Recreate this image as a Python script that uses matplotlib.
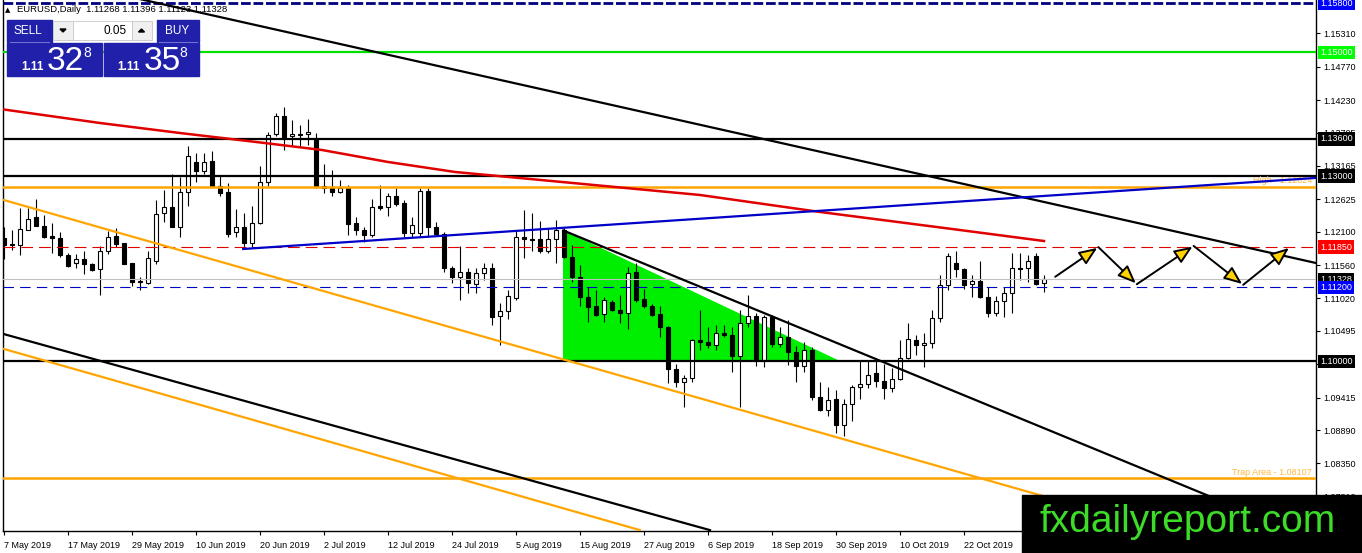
import numpy as np
import matplotlib
matplotlib.use('Agg')
import matplotlib.pyplot as plt
from matplotlib.patches import Rectangle, Polygon

plt.rcParams['font.family'] = ['Liberation Sans', 'DejaVu Sans']
plt.rcParams['lines.scale_dashes'] = False

# EURUSD daily candles (bar 0 = 7 May 2019)
opens = [1.1199, 1.1190, 1.1189, 1.1212, 1.1233, 1.1220, 1.1203, 1.1200, 1.1173, 1.1159,
         1.1165, 1.1158, 1.1149, 1.1179, 1.1203, 1.1191, 1.1159, 1.1130, 1.1127, 1.1163,
         1.1240, 1.1250, 1.1218, 1.1274, 1.1322, 1.1309, 1.1324, 1.1284, 1.1274, 1.1209,
         1.1218, 1.1191, 1.1224, 1.1291, 1.1368, 1.1397, 1.1365, 1.1367, 1.1368, 1.1359,
         1.1284, 1.1281, 1.1275, 1.1282, 1.1224, 1.1213, 1.1205, 1.1252, 1.1250, 1.1268,
         1.1256, 1.1208, 1.1208, 1.1276, 1.1217, 1.1207, 1.1151, 1.1137, 1.1144, 1.1125,
         1.1143, 1.1152, 1.1074, 1.1082, 1.1102, 1.1201, 1.1198, 1.1198, 1.1178, 1.1198,
         1.1213, 1.1169, 1.1136, 1.1105, 1.1090, 1.1077, 1.1097, 1.1083, 1.1078, 1.1145,
         1.1101, 1.1089, 1.1076, 1.1055, 1.0987, 1.0967, 1.0973, 1.1035, 1.1032, 1.1027,
         1.1046, 1.1043, 1.1009, 1.1062, 1.1074, 1.1002, 1.1072, 1.1028, 1.1040, 1.1015,
         1.0992, 1.1019, 1.0942, 1.0922, 1.0940, 1.0897, 1.0931, 1.0958, 1.0964, 1.0982,
         1.0969, 1.0957, 1.0971, 1.1005, 1.1035, 1.1027, 1.1030, 1.1070, 1.1124, 1.1159,
         1.1149, 1.1125, 1.1130, 1.1104, 1.1079, 1.1098, 1.1110, 1.1152, 1.1151, 1.1171,
         1.11268]
highs = [1.1218, 1.1213, 1.1249, 1.1248, 1.1263, 1.1237, 1.1224, 1.1210, 1.1175, 1.1174,
         1.1179, 1.1159, 1.1187, 1.1211, 1.1216, 1.1192, 1.1160, 1.1137, 1.1178, 1.1261,
         1.1278, 1.1304, 1.1299, 1.1348, 1.1337, 1.1338, 1.1341, 1.1302, 1.1289, 1.1246,
         1.1241, 1.1252, 1.1316, 1.1372, 1.1402, 1.1412, 1.1390, 1.1383, 1.1392, 1.1369,
         1.1320, 1.1310, 1.1294, 1.1286, 1.1233, 1.1218, 1.1263, 1.1286, 1.1272, 1.1280,
         1.1261, 1.1233, 1.1280, 1.1280, 1.1225, 1.1210, 1.1155, 1.1187, 1.1151, 1.1151,
         1.1160, 1.1160, 1.1094, 1.1116, 1.1213, 1.1245, 1.1241, 1.1228, 1.1216, 1.1229,
         1.1216, 1.1189, 1.1156, 1.1120, 1.1115, 1.1105, 1.1100, 1.1108, 1.1153, 1.1159,
         1.1117, 1.1093, 1.1090, 1.1058, 1.0996, 1.0978, 1.1037, 1.1084, 1.1056, 1.1059,
         1.1059, 1.1055, 1.1084, 1.1108, 1.1078, 1.1075, 1.1075, 1.1056, 1.1067, 1.1025,
         1.1032, 1.1023, 1.0966, 1.0959, 1.0954, 1.0939, 1.0962, 1.1000, 1.1000, 1.1000,
         1.0996, 1.0989, 1.1034, 1.1062, 1.1043, 1.1046, 1.1084, 1.1140, 1.1175, 1.1178,
         1.1151, 1.1140, 1.1162, 1.1120, 1.1106, 1.1120, 1.1175, 1.1175, 1.1172, 1.1175,
         1.11396]
lows = [1.1165, 1.1181, 1.1173, 1.1212, 1.1219, 1.1199, 1.1175, 1.1169, 1.1153, 1.1151,
        1.1141, 1.1147, 1.1107, 1.1174, 1.1186, 1.1157, 1.1122, 1.1116, 1.1126, 1.1158,
        1.1225, 1.1217, 1.1202, 1.1252, 1.1291, 1.1303, 1.1283, 1.1267, 1.1201, 1.1202,
        1.1186, 1.1186, 1.1223, 1.1284, 1.1365, 1.1343, 1.1348, 1.1348, 1.1350, 1.1280,
        1.1273, 1.1267, 1.1272, 1.1205, 1.1205, 1.1194, 1.1201, 1.1245, 1.1235, 1.1252,
        1.1201, 1.1201, 1.1203, 1.1201, 1.1205, 1.1144, 1.1127, 1.1100, 1.1111, 1.1111,
        1.1132, 1.1059, 1.1027, 1.1068, 1.1100, 1.1167, 1.1178, 1.1175, 1.1176, 1.1160,
        1.1167, 1.1129, 1.1090, 1.1064, 1.1074, 1.1064, 1.1081, 1.1063, 1.1052, 1.1097,
        1.1086, 1.1073, 1.1040, 1.0965, 1.0958, 1.0927, 1.0967, 1.1018, 1.1021, 1.1019,
        1.1040, 1.0983, 1.0927, 1.1056, 1.0992, 1.0991, 1.1024, 1.1024, 1.0994, 1.0966,
        1.0983, 1.0938, 1.0919, 1.0911, 1.0884, 1.0879, 1.0903, 1.0940, 1.0957, 1.0959,
        1.0940, 1.0951, 1.0970, 1.1004, 1.1011, 1.0991, 1.1021, 1.1064, 1.1115, 1.1137,
        1.1117, 1.1105, 1.1102, 1.1072, 1.1074, 1.1072, 1.1079, 1.1131, 1.1128, 1.1124,
        1.11123]
closes = [1.1188, 1.1189, 1.1214, 1.1231, 1.1220, 1.1202, 1.1199, 1.1173, 1.1155, 1.1165,
          1.1157, 1.1148, 1.1179, 1.1201, 1.1190, 1.1158, 1.1129, 1.1128, 1.1167, 1.1238,
          1.1250, 1.1218, 1.1274, 1.1332, 1.1309, 1.1323, 1.1284, 1.1273, 1.1207, 1.1217,
          1.1191, 1.1224, 1.1290, 1.1367, 1.1397, 1.1364, 1.1368, 1.1368, 1.1372, 1.1282,
          1.1281, 1.1275, 1.1281, 1.1223, 1.1212, 1.1205, 1.1250, 1.1248, 1.1268, 1.1255,
          1.1208, 1.1221, 1.1276, 1.1218, 1.1206, 1.1151, 1.1137, 1.1144, 1.1127, 1.1143,
          1.1152, 1.1072, 1.1082, 1.1106, 1.1201, 1.1198, 1.1197, 1.1178, 1.1198, 1.1213,
          1.1169, 1.1137, 1.1105, 1.1088, 1.1075, 1.1099, 1.1083, 1.1078, 1.1143, 1.1099,
          1.1089, 1.1075, 1.1055, 1.0987, 1.0967, 1.0973, 1.1034, 1.1032, 1.1027, 1.1046,
          1.1042, 1.1009, 1.1062, 1.1074, 1.1002, 1.1072, 1.1028, 1.1039, 1.1016, 1.0992,
          1.1019, 1.0942, 1.0922, 1.0937, 1.0897, 1.0931, 1.0958, 1.0964, 1.0978, 1.0969,
          1.0957, 1.0971, 1.1005, 1.1036, 1.1027, 1.1030, 1.1070, 1.1124, 1.1171, 1.1149,
          1.1124, 1.1130, 1.1104, 1.1079, 1.1098, 1.1111, 1.1152, 1.1150, 1.1162, 1.1126,
          1.11328]

date_bars = [0, 8, 16, 24, 32, 40, 48, 56, 64, 72, 80, 88, 96, 104, 112, 120]
date_labels = ['7 May 2019', '17 May 2019', '29 May 2019', '10 Jun 2019', '20 Jun 2019',
               '2 Jul 2019', '12 Jul 2019', '24 Jul 2019', '5 Aug 2019', '15 Aug 2019',
               '27 Aug 2019', '6 Sep 2019', '18 Sep 2019', '30 Sep 2019', '10 Oct 2019',
               '22 Oct 2019']
price_ticks = [1.15310, 1.14770, 1.14230, 1.13705, 1.13165, 1.12625, 1.12100, 1.11560,
               1.11020, 1.10495, 1.09955, 1.09415, 1.08890, 1.08350, 1.07810]

# moving average (red)
ma_bars = [-0.5, 12, 22, 32.6, 39.75, 48, 56.4, 65.75, 87, 102, 119.5, 130]
ma_vals = [1.14086, 1.13859, 1.13697, 1.13535, 1.13422, 1.13228, 1.13066, 1.12953,
           1.12694, 1.12419, 1.12127, 1.11949]

# trend lines (bar, price) pairs
top_line = ([0, 164], [1.16358, 1.11593])
wedge_line = ([69.9, 164], [1.1212, 1.0711])
blue_line = ([29.9, 164], [1.1182, 1.1297])
orange_up = ([-0.5, 150], [1.1263, 1.0708])
orange_low = ([-0.5, 79.5], [1.1022, 1.0727])
black_low = ([-0.5, 88.25], [1.1046, 1.0727])
tri_bars = [69.9, 69.9, 104.5]
tri_vals = [1.1212, 1.1000, 1.1000]

# projected zigzag
zig_bars = [131.4, 136.8, 141.6, 148.7, 154.9, 160.75]
zig_vals = [1.1137, 1.1185, 1.1125, 1.1187, 1.1124, 1.1185]

# horizontal levels
hlines = [(1.15800, '#000080', 2.0, (0, (7, 2))),
          (1.15000, '#00e000', 1.6, '-'),
          (1.13600, 'black', 1.6, '-'),
          (1.13000, 'black', 1.6, '-'),
          (1.12824, '#ffa500', 1.8, '-'),
          (1.11850, '#e00000', 0.8, (0, (8.5, 4.3))),
          (1.11328, '#c0c0c0', 0.8, '-'),
          (1.11200, '#0000c0', 0.8, (0, (7.5, 4.5))),
          (1.10000, 'black', 1.6, '-'),
          (1.08107, '#ffa500', 1.8, '-')]
price_tags = [(1.15800, '1.15800', '#0000ff', 'white'),
              (1.15000, '1.15000', '#00ff00', 'white'),
              (1.13600, '1.13600', 'black', 'white'),
              (1.13000, '1.13000', 'black', 'white'),
              (1.11850, '1.11850', '#ff0000', 'white'),
              (1.11328, '1.11328', 'black', 'white'),
              (1.11200, '1.11200', '#0000ff', 'white'),
              (1.10000, '1.10000', 'black', 'white')]

W, H = 1362, 553
fig = plt.figure(figsize=(W / 100, H / 100), dpi=100)
ax = fig.add_axes([3 / W, (H - 531) / H, (1316 - 3) / W, 531 / H])
ax.set_xlim(-0.125, 164)
ax.set_ylim(1.07256, 1.158495)

o = np.array(opens); hi = np.array(highs); lo = np.array(lows); c = np.array(closes)
x = np.arange(len(o))
up = c >= o

ax.fill(tri_bars, tri_vals, color='#00ee00', lw=0, zorder=1)
ax.vlines(x, lo, hi, color='black', lw=0.8, zorder=2)
ax.bar(x, np.abs(c - o), bottom=np.minimum(o, c), width=0.62,
       color=np.where(up, 'white', 'black'), edgecolor='black', lw=0.8, zorder=2.5)

for lvl, col, lw, ls in hlines:
    ax.axhline(lvl, color=col, lw=lw, ls=ls, zorder=3)

ax.plot(ma_bars, ma_vals, color='#e00000', lw=1.8, zorder=3)
for line, col in [(top_line, 'black'), (wedge_line, 'black'), (blue_line, '#0000c8'),
                  (orange_up, '#ffa500'), (orange_low, '#ffa500'), (black_low, 'black')]:
    ax.plot(line[0], line[1], color=col, lw=1.6, zorder=3.2)

for i in range(len(zig_bars) - 1):
    ax.annotate('', xy=(zig_bars[i + 1], zig_vals[i + 1]), xytext=(zig_bars[i], zig_vals[i]),
                arrowprops=dict(arrowstyle='-|>,head_length=1.1,head_width=0.45',
                                fc='#ffd200', ec='black', lw=1.4, shrinkA=0, shrinkB=1),
                zorder=4)

ax.text(163.5, 1.12824 + 0.0003, 'High - 1.12824', color='#ffb840', fontsize=6.5,
        ha='right', va='bottom', zorder=3.1)
ax.text(163.5, 1.08107 + 0.0003, 'Trap Area - 1.08107', color='#ffb840', fontsize=6.5,
        ha='right', va='bottom', zorder=3.1)

# axes styling like the terminal
ax.spines['top'].set_visible(False)
for s in ['left', 'right', 'bottom']:
    ax.spines[s].set_linewidth(1.0)
ax.yaxis.tick_right()
ax.set_yticks(price_ticks)
ax.set_yticklabels(['%.5f' % p for p in price_ticks])
ax.set_xticks(date_bars)
ax.set_xticklabels(date_labels, ha='left')
ax.tick_params(axis='both', direction='out', length=3, width=0.8, labelsize=6.5, pad=2)
ax.tick_params(axis='x', pad=4)
for lab in ax.get_xticklabels():
    lab.set_x(lab.get_position()[0])

for lvl, s, bg, tc in price_tags:
    ax.annotate(s, xy=(1, lvl), xycoords=('axes fraction', 'data'), xytext=(4, 0),
                textcoords='offset pixels', ha='left', va='center', fontsize=6.5, color=tc,
                bbox=dict(boxstyle='square,pad=0.25', fc=bg, ec='none'),
                annotation_clip=False, zorder=5)

# overlay in pixel coordinates for the trade panel and watermark
ov = fig.add_axes([0, 0, 1, 1], zorder=5)
ov.set_xlim(0, W)
ov.set_ylim(H, 0)
ov.axis('off')

ov.text(5, 10, '\u25b2', fontsize=5, va='center', family=['DejaVu Sans'])
ov.text(17, 10, 'EURUSD,Daily  1.11268 1.11396 1.11123 1.11328', fontsize=6.8, va='center')

blue = '#2020aa'
ov.add_patch(Rectangle((6.7, 20), 45, 22, color=blue))
ov.add_patch(Rectangle((156.7, 20), 42.5, 22, color=blue))
ov.add_patch(Rectangle((6.7, 42.7), 95, 33.3, color=blue))
ov.add_patch(Rectangle((104, 42.7), 95, 33.3, color=blue))
ov.plot([10, 49], [41.5, 41.5], color='#7070d0', lw=0.8)
ov.plot([159, 197], [41.5, 41.5], color='#7070d0', lw=0.8)
ov.add_patch(Rectangle((53, 20.5), 20, 19.5, fc='#f0f0f0', ec='#c8c8c8', lw=0.6))
ov.add_patch(Rectangle((73, 20.5), 58.5, 19.5, fc='white', ec='#c8c8c8', lw=0.6))
ov.add_patch(Rectangle((131.5, 20.5), 20.5, 19.5, fc='#f0f0f0', ec='#c8c8c8', lw=0.6))
ov.add_patch(Polygon([[60, 29], [66, 29], [63, 32]], color='black'))
ov.add_patch(Polygon([[138.5, 32], [144.5, 32], [141.5, 29]], color='black'))
ov.text(27.5, 31, 'SELL', color='white', fontsize=8.5, ha='center', va='center')
ov.text(177, 31, 'BUY', color='white', fontsize=8.5, ha='center', va='center')
ov.text(127, 30.5, '0.05', color='black', fontsize=8.5, ha='right', va='center')
for x0, big in [(21, '32'), (117.5, '35')]:
    ov.text(x0, 70, '1.11', color='white', fontsize=8.5, weight='bold', va='baseline')
    ov.text(x0 + 26, 70, big, color='white', fontsize=24, va='baseline')
    ov.text(x0 + 62, 57, '8', color='white', fontsize=10, va='baseline')

ov.add_patch(Rectangle((1022, 495), 340, 58, color='black'))
ov.text(1040, 522, 'fxdailyreport.com', color='#3cdc28', fontsize=28, va='center', ha='left')

fig.savefig('out.png', dpi=100)
